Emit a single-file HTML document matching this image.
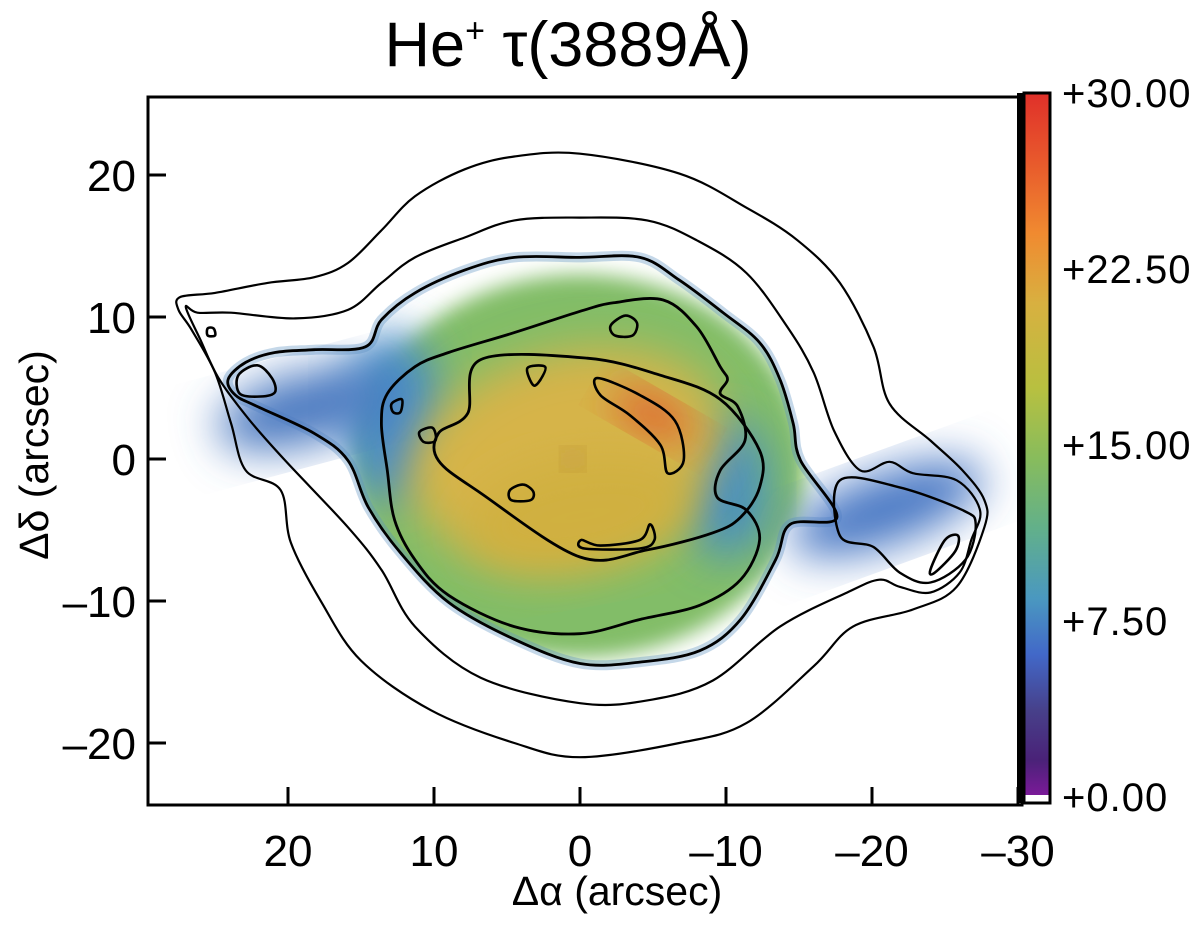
<!DOCTYPE html>
<html><head><meta charset="utf-8">
<style>
html,body{margin:0;padding:0;background:#fff;}
body{width:1200px;height:935px;overflow:hidden;font-family:"Liberation Sans",sans-serif;}
svg text{font-family:"Liberation Sans",sans-serif;fill:#000;}
</style></head>
<body>
<svg id="chart" width="1200" height="935" viewBox="0 0 1200 935" xmlns="http://www.w3.org/2000/svg">
<defs>
<filter id="blur1" x="-30%" y="-30%" width="160%" height="160%"><feGaussianBlur stdDeviation="22"/></filter>
<filter id="blur2" x="-30%" y="-30%" width="160%" height="160%"><feGaussianBlur stdDeviation="10"/></filter>
<linearGradient id="cbar" x1="0" y1="0" x2="0" y2="1">
<stop offset="0" stop-color="#e0302a"/>
<stop offset="0.1" stop-color="#e85a2c"/>
<stop offset="0.2" stop-color="#f08a30"/>
<stop offset="0.3" stop-color="#d8b040"/>
<stop offset="0.42" stop-color="#b8c040"/>
<stop offset="0.52" stop-color="#88bc5c"/>
<stop offset="0.62" stop-color="#62b08a"/>
<stop offset="0.72" stop-color="#4a98c0"/>
<stop offset="0.8" stop-color="#4268c8"/>
<stop offset="0.88" stop-color="#47408a"/>
<stop offset="0.95" stop-color="#4a2278"/>
<stop offset="1" stop-color="#7a1a98"/>
</linearGradient>
</defs>
<g id="image"></g>
<g id="contours"></g>
<rect x="148" y="97" width="874" height="708" fill="none" stroke="#000" stroke-width="3"/>
<g id="axes"></g>
<rect x="1024" y="93" width="26" height="702" fill="url(#cbar)"/>
<rect x="1024" y="795" width="26" height="8" fill="#fff"/>
<rect x="1024" y="93" width="26" height="710" fill="none" stroke="#000" stroke-width="3"/>
<rect x="1017" y="93" width="8" height="710" fill="#000"/>
<g id="cbticks"></g>
<text x="568" y="66" font-size="63" text-anchor="middle">He<tspan font-size="34" dy="-24">+</tspan><tspan dy="24"> τ(3889Å)</tspan></text>
<text x="617" y="905" font-size="41" text-anchor="middle">Δα (arcsec)</text>
<text x="48" y="455" font-size="41" text-anchor="middle" transform="rotate(-90 48 455)">Δδ (arcsec)</text>
</svg>
<script>
const xTicks=[20,10,0,-10,-20,-30];
const yTicks=[20,10,0,-10,-20];
const cbTicks=[30,22.5,15,7.5,0];
const cbLabels=["+30.00","+22.50","+15.00","+7.50","+0.00"];
const contourA=[[27.4,11.4],[25.0,11.7],[21.4,12.4],[18.2,12.8],[15.9,13.8],[13.6,16.1],[11.3,18.5],[7.9,20.4],[4.5,21.3],[0,21.5],[-6.8,20.1],[-11.4,17.7],[-14.9,15.4],[-17.8,12.4],[-20.1,7.9],[-21.2,3.9],[-24.0,1.3],[-26.2,-0.8],[-27.7,-2.9],[-27.7,-4.8],[-25.8,-9.0],[-22.8,-10.6],[-18.7,-11.8],[-16.0,-14.6],[-11.4,-18.6],[-6.8,-20.0],[0,-21.0],[4.5,-20.0],[10.2,-17.7],[15.0,-14.2],[17.7,-10.1],[19.8,-5.9],[20.5,-2.2],[22.9,-0.8],[23.9,2.5],[25.0,6.1],[26.6,9.1],[27.5,10.5]];
const contourB=[[27.0,10.7],[26.2,10.3],[23.9,10.3],[19.5,9.9],[15.9,10.5],[13.6,12.4],[11.3,14.2],[7.9,15.6],[4.5,16.8],[0,17.0],[-4.6,16.8],[-8.0,15.4],[-11.4,13.1],[-14.2,9.3],[-16.0,6.1],[-17.4,2.0],[-19.2,-0.8],[-21.2,-0.2],[-22.8,-1.0],[-25.8,-1.5],[-27.4,-3.6],[-26.8,-5.7],[-26.0,-8.0],[-24.0,-9.4],[-21.9,-9.0],[-20.5,-8.5],[-18.3,-9.4],[-13.7,-11.8],[-9.1,-15.6],[-4.6,-17.0],[0,-17.2],[6.8,-15.4],[11.3,-11.8],[13.6,-7.8],[15.9,-4.8],[20.2,-0.1],[22.6,2.7],[24.7,5.6],[26.0,8.4]];
const contourC=[[24.1,5.6],[22.9,6.8],[20.9,7.5],[18.2,7.7],[14.7,7.9],[13.6,9.8],[11.3,11.7],[7.9,13.3],[4.5,14.2],[0,14.2],[-4.1,14.2],[-6.8,12.6],[-9.8,10.3],[-12.3,8.2],[-13.7,5.6],[-14.6,2.5],[-15.1,-0.1],[-17.6,-4.1],[-14.4,-4.6],[-13.4,-7.1],[-11.0,-11.3],[-8.2,-13.5],[-4.1,-14.3],[0,-14.4],[4.5,-12.7],[9.0,-10.1],[12.3,-6.6],[14.5,-3.4],[15.9,-0.1],[18.2,1.8],[22.1,3.7],[23.6,4.5]];
const contourD=[[13.2,-0.8],[13.6,2.5],[13.2,4.6],[11.3,6.5],[9.0,7.5],[4.5,8.9],[0,10.4],[-2.3,11.0],[-5.7,11.2],[-8.0,9.3],[-9.6,6.5],[-10.1,5.6],[-9.6,4.6],[-10.8,3.7],[-11.3,1.3],[-9.6,-0.8],[-9.4,-2.7],[-11.4,-3.6],[-12.3,-5.7],[-11.0,-8.5],[-8.2,-10.3],[-4.1,-11.3],[0,-12.3],[4.5,-11.8],[9.0,-9.6],[11.3,-7.1],[12.7,-4.3]];
const contourE=[[6.8,7.0],[-0.5,7.1],[-5.5,5.9],[-9.6,4.2],[-12.3,0.6],[-12.3,-2.0],[-11.0,-4.1],[-9.1,-5.2],[-4.6,-6.4],[0,-6.9],[6.8,-2.4],[9.7,-0.1],[9.7,1.8],[7.7,3.2]];
const contourWing=[[-17.8,-1.5],[-21.9,-2.0],[-26.2,-3.6],[-27.1,-4.6],[-26.4,-7.1],[-24.0,-8.7],[-21.9,-8.0],[-20.1,-6.2],[-17.8,-5.4]];
const loops=[
[[23.4,5.9],[22.1,6.6],[21.1,5.7],[20.9,4.7],[21.9,4.4],[23.3,4.6]],
[[-24.0,-7.8],[-25.0,-5.7],[-25.9,-5.4],[-25.7,-6.5],[-24.3,-8.0]],
[[-2.1,9.4],[-3.1,10.1],[-3.9,9.6],[-3.6,8.7],[-2.4,8.7]],
[[3.6,6.4],[2.4,6.5],[2.7,5.6],[3.2,5.2]],
[[4.8,-2.2],[3.9,-1.8],[3.2,-2.3],[3.4,-2.9],[4.7,-2.9]],
[[-0.1,-5.7],[-1.4,-6.1],[-4.1,-5.7],[-4.8,-4.6],[-5.1,-5.7],[-4.1,-6.3],[-0.3,-6.3]],
[[-1.2,5.7],[-4.1,4.5],[-6.5,2.7],[-7.1,-0.1],[-6.0,-1.0],[-5.5,1.0],[-3.4,3.1],[-1.4,4.5]],
[[12.9,3.9],[12.2,4.2],[12.3,3.3],[12.8,3.3]],
[[11.0,1.9],[10.1,2.2],[9.9,1.3],[10.7,1.2]],
[[25.5,9.2],[25.1,9.2],[25.0,8.7],[25.5,8.7]]
];
const blobCenters=[[0,-0.5],[13,3],[-10,-2],[1,0.5],[-5,3],[0,-4],[19,3.5],[-21,-3.5],[0.5,0]];
const blobSizes=[[15.5,13.5],[3.5,6],[3,5],[11,7],[3,1.2],[8,4],[6,2.5],[7,2.5],[0.6,0.6]];
const blobRot=[0,0,0,-15,30,-10,-15,-20,0];
const blobCols=["#82bd68","#4a8cc8","#4a90c0","#d6b448","#e0502c","#d0b040","#4a78c0","#4a78c4","#8a4030"];

const NS="http://www.w3.org/2000/svg";
const X=a=>580-14.6*a;
const Y=d=>459-14.2*d;
function smooth(pts){
  const p=pts.map(q=>[X(q[0]),Y(q[1])]);const n=p.length;
  let s="M"+p[0][0].toFixed(1)+","+p[0][1].toFixed(1);
  for(let i=0;i<n;i++){
    const p0=p[(i-1+n)%n],p1=p[i],p2=p[(i+1)%n],p3=p[(i+2)%n];
    const c1=[p1[0]+(p2[0]-p0[0])/6,p1[1]+(p2[1]-p0[1])/6];
    const c2=[p2[0]-(p3[0]-p1[0])/6,p2[1]-(p3[1]-p1[1])/6];
    s+="C"+c1.map(v=>v.toFixed(1))+" "+c2.map(v=>v.toFixed(1))+" "+p2.map(v=>v.toFixed(1));
  }
  return s+"Z";
}
const img=document.getElementById('image');
const clip=document.createElementNS(NS,'clipPath');clip.setAttribute('id','clipB');
const cp=document.createElementNS(NS,'path');cp.setAttribute('d',smooth(contourC));clip.appendChild(cp);
document.querySelector('defs').appendChild(clip);
const g=document.createElementNS(NS,'g');g.setAttribute('clip-path','url(#clipB)');


img.appendChild(g);
const halo=document.createElementNS(NS,'path');
halo.setAttribute('d',smooth(contourC));halo.setAttribute('fill','none');halo.setAttribute('stroke','#5a90c0');halo.setAttribute('stroke-width','10');halo.setAttribute('opacity','0.35');


img.appendChild(halo);
blobCenters.forEach((c,i)=>{
  const e=document.createElementNS(NS,'ellipse');
  e.setAttribute('cx',X(c[0]));e.setAttribute('cy',Y(c[1]));
  e.setAttribute('rx',blobSizes[i][0]*14.6);e.setAttribute('ry',blobSizes[i][1]*14.2);
  e.setAttribute('transform','rotate('+blobRot[i]+' '+X(c[0])+' '+Y(c[1])+')');
  e.setAttribute('fill',blobCols[i]);
  e.setAttribute('filter',i===0?'url(#blur2)':'url(#blur1)');
  
  
  (i===6||i===7?img:g).appendChild(e);
});
const cg=document.getElementById('contours');
function addC(pts,w,name){
  const p=document.createElementNS(NS,'path');
  p.setAttribute('d',smooth(pts));p.setAttribute('fill','none');p.setAttribute('stroke','#000');p.setAttribute('stroke-width',w);
  
  
  cg.appendChild(p);
}
addC(contourA,2.2,'contour-level-1');
addC(contourB,2.2,'contour-level-2');
addC(contourC,2.8,'contour-level-3');
addC(contourWing,2.4,'contour-wing');
addC(contourD,2.8,'contour-level-4');
addC(contourE,2.8,'contour-level-5');
loops.forEach(l=>addC(l,2.6,'contour-loop'));
const ax=document.getElementById('axes');
xTicks.forEach(t=>{
  const l=document.createElementNS(NS,'line');
  l.setAttribute('x1',X(t));l.setAttribute('x2',X(t));l.setAttribute('y1',805);l.setAttribute('y2',787);
  l.setAttribute('stroke','#000');l.setAttribute('stroke-width',3);
  
  
  ax.appendChild(l);
  const tx=document.createElementNS(NS,'text');
  tx.setAttribute('x',X(t));tx.setAttribute('y',866);tx.setAttribute('font-size',44);tx.setAttribute('text-anchor','middle');
  tx.textContent=t<0?'\u2013'+(-t):String(t);
  
  
  ax.appendChild(tx);
});
yTicks.forEach(t=>{
  const l=document.createElementNS(NS,'line');
  l.setAttribute('x1',148);l.setAttribute('x2',166);l.setAttribute('y1',Y(t));l.setAttribute('y2',Y(t));
  l.setAttribute('stroke','#000');l.setAttribute('stroke-width',3);
  
  
  ax.appendChild(l);
  const tx=document.createElementNS(NS,'text');
  tx.setAttribute('x',136);tx.setAttribute('y',Y(t)+16);tx.setAttribute('font-size',44);tx.setAttribute('text-anchor','end');
  tx.textContent=t<0?'\u2013'+(-t):String(t);
  
  
  ax.appendChild(tx);
});
const cb=document.getElementById('cbticks');
const CY=v=>797-(v/30)*704;
cbTicks.forEach((v,i)=>{
  const tx=document.createElementNS(NS,'text');
  tx.setAttribute('x',1062);tx.setAttribute('y',CY(v)+14);tx.setAttribute('font-size',40);tx.setAttribute('letter-spacing','1');
  tx.textContent=cbLabels[i];
  
  
  cb.appendChild(tx);
});
</script>
</body></html>
